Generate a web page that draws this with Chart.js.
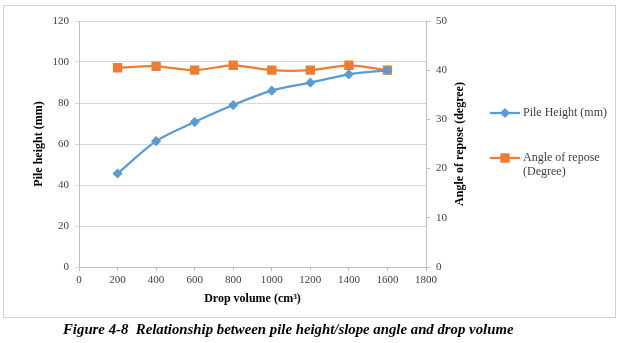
<!DOCTYPE html>
<html>
<head>
<meta charset="utf-8">
<script src="https://cdn.jsdelivr.net/npm/chart.js@4/dist/chart.umd.min.js"></script>
<style>
  body { margin: 0; background: #fff; }
  #wrap { position: relative; width: 623px; height: 343px; overflow: hidden; }
  #chart { position: absolute; left: 0; top: 0; }
  #frame { position: absolute; left: 3px; top: 5px; width: 611px; height: 311px; border: 1.5px solid #d0d0d0; pointer-events: none; }
  #caption { position: absolute; left: 63px; top: 321px; font: italic bold 14.8px "Liberation Serif", serif; line-height: 16px; white-space: nowrap; }
</style>
</head>
<body>
<div id="wrap">
  <canvas id="chart" width="623" height="320"></canvas>
  <div id="frame"></div>
  <div id="caption">Figure 4-8&nbsp; Relationship between pile height/slope angle and drop volume</div>
</div>
<script>
const dropVolume = [200, 400, 600, 800, 1000, 1200, 1400, 1600];
const pileHeight = [45.6, 61.4, 70.7, 79, 86, 89.9, 94, 95.9];
const reposeAngle = [40.5, 40.8, 40, 41, 40, 40, 41, 40];

const blue = '#5b9bd5';
const orange = '#ed7d31';
const serif = "'Liberation Serif', 'Times New Roman', serif";

// legend and right-hand title drawn by hand (text wraps / reads upward)
const extras = {
    id: 'extras',
    afterDraw(chart) {
        const ctx = chart.ctx;
        ctx.save();
        ctx.font = 'bold 12px ' + serif;
        ctx.fillStyle = '#000';
        ctx.textAlign = 'center';
        ctx.textBaseline = 'middle';
        ctx.translate(460, 144);
        ctx.rotate(-Math.PI / 2);
        ctx.fillText('Angle of repose (degree)', 0, 0);
        ctx.restore();

        const items = [
            { color: blue, style: 'rectRot', r: 3.5, y: 113, lines: ['Pile Height (mm)'] },
            { color: orange, style: 'rect', r: 5, y: 158, lines: ['Angle of repose', '(Degree)'] }
        ];
        ctx.save();
        ctx.font = '12px ' + serif;
        items.forEach(function (it) {
            ctx.strokeStyle = it.color;
            ctx.lineWidth = 2.25;
            ctx.beginPath();
            ctx.moveTo(490, it.y);
            ctx.lineTo(520, it.y);
            ctx.stroke();
            ctx.fillStyle = it.color;
            Chart.helpers.drawPoint(ctx, { pointStyle: it.style, radius: it.r, borderWidth: 1 }, 505, it.y);
            ctx.fillStyle = '#404040';
            ctx.textAlign = 'left';
            ctx.textBaseline = 'middle';
            it.lines.forEach(function (t, i) {
                ctx.fillText(t, 523, it.y + i * 14);
            });
        });
        ctx.restore();
    }
};

new Chart(document.getElementById('chart'), {
    type: 'line',
    data: {
        datasets: [{
            label: 'Pile Height (mm)',
            data: dropVolume.map((v, i) => ({ x: v, y: pileHeight[i] })),
            yAxisID: 'y',
            borderColor: blue,
            backgroundColor: blue,
            borderWidth: 2.25,
            pointStyle: 'rectRot',
            pointRadius: 3.5,
            tension: 0.3
        }, {
            label: 'Angle of repose (Degree)',
            data: dropVolume.map((v, i) => ({ x: v, y: reposeAngle[i] })),
            yAxisID: 'y2',
            borderColor: orange,
            backgroundColor: orange,
            borderWidth: 2.25,
            pointStyle: 'rect',
            pointRadius: 5,
            tension: 0.3
        }]
    },
    options: {
        responsive: false,
        animation: false,
        devicePixelRatio: 1,
        layout: { padding: { left: 0, top: 21, right: 147, bottom: 0 } },
        plugins: { legend: { display: false }, tooltip: { enabled: false } },
        scales: {
            x: {
                type: 'linear',
                min: 0, max: 1800,
                ticks: { stepSize: 200, color: '#404040', font: { family: serif, size: 11 }, padding: 3, maxRotation: 0, callback: v => String(v) },
                grid: { drawOnChartArea: false, color: '#bfbfbf', tickLength: 4 },
                border: { color: '#bfbfbf' },
                title: { display: true, text: 'Drop volume (cm³)', color: '#000', font: { family: serif, size: 12, weight: 'bold' }, padding: { bottom: 14 } },
                afterFit: s => { s.height = 53; }
            },
            y: {
                position: 'left',
                min: 0, max: 120,
                ticks: { stepSize: 20, color: '#404040', font: { family: serif, size: 11 }, padding: 6 },
                grid: { color: '#d9d9d9', tickLength: 4 },
                border: { color: '#bfbfbf' },
                title: { display: true, text: 'Pile height (mm)', color: '#000', font: { family: serif, size: 12, weight: 'bold' }, padding: { top: 32 } },
                afterFit: s => { s.width = 79; }
            },
            y2: {
                position: 'right',
                min: 0, max: 50,
                ticks: { stepSize: 10, color: '#404040', font: { family: serif, size: 11 }, padding: 6 },
                grid: { drawOnChartArea: false, color: '#bfbfbf', tickLength: 4 },
                border: { color: '#bfbfbf' },
                afterFit: s => { s.width = 50; }
            }
        }
    },
    plugins: [extras]
});
</script>
</body>
</html>
